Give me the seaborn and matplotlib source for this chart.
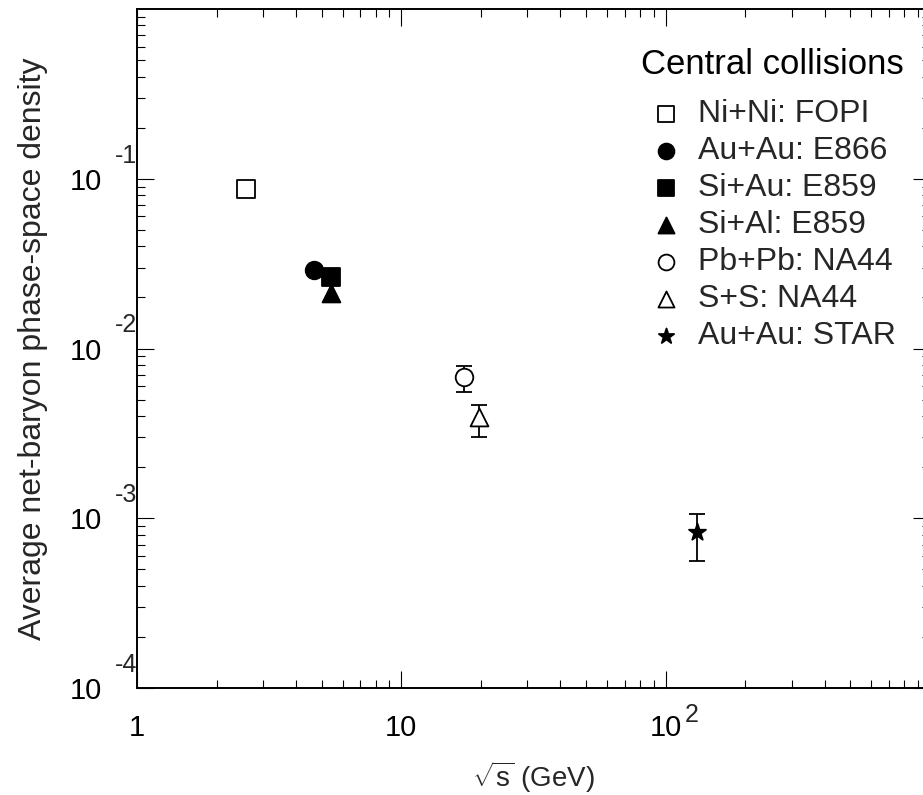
import numpy as np
import pandas as pd
import matplotlib
matplotlib.use("Agg")
import matplotlib.pyplot as plt
import seaborn as sns
from matplotlib.ticker import LogLocator, NullFormatter, FixedLocator, FixedFormatter

# ---------------- data ----------------
systems = ["Ni+Ni: FOPI", "Au+Au: E866", "Si+Au: E859", "Si+Al: E859",
           "Pb+Pb: NA44", "S+S: NA44", "Au+Au: STAR"]
sqrt_s = [2.59, 4.68, 5.43, 5.43, 17.2, 19.6, 131.0]
density = [0.0873, 0.0292, 0.0265, 0.0213, 0.00675, 0.00393, 0.000827]
err_low = [0.0, 0.0, 0.0, 0.0, 0.00117, 0.00090, 0.00027]
err_high = [0.0, 0.0, 0.0, 0.0, 0.00119, 0.00069, 0.00023]
has_err = [False, False, False, False, True, True, True]
markers = ["s", "o", "s", "^", "o", "^", "*"]
filled = [False, True, True, True, False, False, True]

x_ticks = [1, 10, 100]
x_tick_labels = ["1", "10", "10"]
x_tick_exponents = ["", "", "2"]
y_ticks = [1e-4, 1e-3, 1e-2, 1e-1]
y_tick_labels = ["10", "10", "10", "10"]
y_tick_exponents = ["-4", "-3", "-2", "-1"]

legend_title = "Central collisions"
x_title = r"$\sqrt{\mathrm{s}}$ (GeV)"
y_title = "Average net-baryon phase-space density"

# ---------------- style ----------------
sns.set_theme(style="ticks")
plt.rcParams["font.family"] = ["Liberation Sans", "DejaVu Sans"]
plt.rcParams["mathtext.fontset"] = "custom"
plt.rcParams["mathtext.rm"] = "Liberation Sans"
plt.rcParams["mathtext.it"] = "Liberation Sans:italic"
plt.rcParams["mathtext.bf"] = "Liberation Sans:bold"

W, H = 923, 795
fig = plt.figure(figsize=(W / 100, H / 100), dpi=100)
fig.patch.set_facecolor("white")
L, R, T, B = 137, 930, 9, 688
ax = fig.add_axes([L / W, 1 - B / H, (R - L) / W, (B - T) / H])
ax.set_facecolor("white")
ax.set_xscale("log")
ax.set_yscale("log")
ax.set_xlim(1, 1000)
ax.set_ylim(1e-4, 1)

marker_sizes = {"s": 175, "o": 160, "^": 165, "*": 165}
for i, name in enumerate(systems):
    if has_err[i]:
        ax.errorbar([sqrt_s[i]], [density[i]], yerr=[[err_low[i]], [err_high[i]]],
                    fmt="none", ecolor="black", elinewidth=1.3, capsize=6,
                    capthick=1.3, zorder=2, label="_nolegend_")
    sns.scatterplot(x=[sqrt_s[i]], y=[density[i]], marker=markers[i],
                    s=marker_sizes[markers[i]], color="black",
                    facecolor=("black" if filled[i] else "white"),
                    edgecolor="black", linewidth=1.3, label=name, ax=ax,
                    zorder=3, legend=False)

# ticks
ax.xaxis.set_major_locator(FixedLocator(x_ticks))
ax.xaxis.set_major_formatter(FixedFormatter(x_tick_labels))
ax.xaxis.set_minor_locator(LogLocator(base=10, subs=np.arange(2, 10)))
ax.xaxis.set_minor_formatter(NullFormatter())
ax.yaxis.set_major_locator(FixedLocator(y_ticks))
ax.yaxis.set_major_formatter(FixedFormatter(y_tick_labels))
ax.yaxis.set_minor_locator(LogLocator(base=10, subs=np.arange(2, 10)))
ax.yaxis.set_minor_formatter(NullFormatter())

ax.tick_params(axis="both", which="both", direction="in", color="black",
               labelcolor="black", top=True, right=True, width=0.8)
ax.tick_params(axis="both", which="major", length=12.0, labelsize=21)
ax.tick_params(axis="both", which="minor", length=6.0)
ax.tick_params(axis="x", which="major", pad=19)
ax.tick_params(axis="y", which="major", pad=25)

for sp in ax.spines.values():
    sp.set_visible(True)
    sp.set_linewidth(1.4)
    sp.set_color("black")

# exponents of the tick labels
for xt, ex in zip(x_ticks, x_tick_exponents):
    if ex:
        ax.annotate(ex, xy=(xt, 0), xycoords=("data", "axes fraction"),
                    xytext=(19, -34), textcoords="offset pixels",
                    ha="left", va="baseline", fontsize=18)
for yt, ex in zip(y_ticks, y_tick_exponents):
    ax.annotate(ex, xy=(0, yt), xycoords=("axes fraction", "data"),
                xytext=(-22, 16), textcoords="offset pixels",
                ha="left", va="baseline", fontsize=18)

# axis titles
ax.set_xlabel(x_title, fontsize=20)
ax.set_ylabel(y_title, fontsize=23)
ax.xaxis.set_label_coords(0.5, (688 - 759) / (B - T))
ax.xaxis.label.set_va("top")
ax.yaxis.set_label_coords((48 - L) / (R - L), 0.5)

# legend
leg = ax.legend(title=legend_title, loc="upper left",
                bbox_to_anchor=(641 / W, 1 - 48 / H), bbox_transform=fig.transFigure,
                frameon=False, fontsize=23, title_fontsize=25,
                alignment="left", borderpad=0, borderaxespad=0,
                handlelength=1.57, handletextpad=0.22, labelspacing=0.22,
                markerscale=0.9)
leg.get_title().set_color("black")
leg._legend_box.sep = 13

fig.savefig("out.png", dpi=100)
